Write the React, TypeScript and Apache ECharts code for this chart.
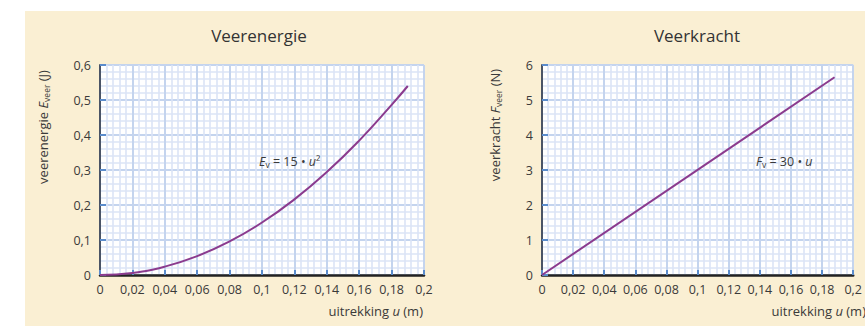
import React, { useEffect, useRef } from "react";
import * as echarts from "echarts";

const energyU = [0, 0.02, 0.04, 0.06, 0.08, 0.1, 0.12, 0.14, 0.16, 0.18, 0.19];
const energyE = [0, 0.006, 0.024, 0.054, 0.096, 0.15, 0.216, 0.294, 0.384, 0.486, 0.54];
const forceU = [0, 0.188];
const forceF = [0, 5.65];

const titles = ["Veerenergie", "Veerkracht"];

const FONT = "'Open Sans', 'Noto Sans', sans-serif";
const TXT = "#3a3a3a";
const PURPLE = "#8b3b8e";

const fmt = (v: number) => String(Number(v.toFixed(3))).replace(".", ",");

function xAxisFor(idx: number) {
  return {
    type: "value",
    gridIndex: idx,
    min: 0,
    max: 0.2,
    interval: 0.02,
    axisLine: { show: true, onZero: false, lineStyle: { color: "#222", width: 2.5 } },
    axisTick: { show: true, inside: true, length: 5, lineStyle: { color: "#5b8ccc", width: 2 } },
    axisLabel: { formatter: fmt, color: TXT, fontSize: 12.5, fontFamily: FONT, margin: 8 },
    splitLine: { show: true, lineStyle: { color: "#c4d4ee", width: 2 } },
    minorTick: { show: false, splitNumber: 5 },
    minorSplitLine: { show: true, lineStyle: { color: "#dbe4f6", width: 1.6 } },
  };
}

function yAxisFor(idx: number, max: number, interval: number) {
  return {
    type: "value",
    gridIndex: idx,
    min: 0,
    max,
    interval,
    axisLine: { show: true, onZero: false, lineStyle: { color: "#4a5466", width: 2 } },
    axisTick: { show: true, inside: true, length: 6, lineStyle: { color: "#5b8ccc", width: 2 } },
    axisLabel: { formatter: fmt, color: TXT, fontSize: 12.5, fontFamily: FONT, margin: 9 },
    splitLine: { show: true, lineStyle: { color: "#c4d4ee", width: 2 } },
    minorTick: { show: false, splitNumber: 5 },
    minorSplitLine: { show: true, lineStyle: { color: "#dbe4f6", width: 1.6 } },
  };
}

const richBase = {
  a: { fontSize: 13, fontFamily: FONT, fill: TXT },
  i: { fontSize: 13, fontFamily: FONT, fontStyle: "italic", fill: TXT },
  s: { fontSize: 8.5, fontFamily: FONT, fill: TXT, verticalAlign: "bottom", padding: [6, 0, 0, 0] },
};

const richEq = {
  a: { fontSize: 12.5, fontFamily: FONT, fill: TXT },
  i: { fontSize: 12.5, fontFamily: FONT, fontStyle: "italic", fill: TXT },
  s: { fontSize: 8.5, fontFamily: FONT, fill: TXT, verticalAlign: "bottom", padding: [6, 0, 0, 0] },
};

export default function App() {
  const ref = useRef<HTMLDivElement>(null);
  useEffect(() => {
    if (!ref.current) return;
    const chart = echarts.init(ref.current, null, { renderer: "svg" });
    chart.setOption({
      animation: false,
      backgroundColor: "#ffffff",
      grid: [
        { left: 100, top: 65, width: 324, height: 210, show: true, backgroundColor: "#ffffff", borderWidth: 0 },
        { left: 542, top: 65, width: 324, height: 210, show: true, backgroundColor: "#ffffff", borderWidth: 0 },
      ],
      xAxis: [xAxisFor(0), xAxisFor(1)],
      yAxis: [yAxisFor(0, 0.6, 0.1), yAxisFor(1, 6, 1)],
      series: [
        {
          type: "line",
          xAxisIndex: 0,
          yAxisIndex: 0,
          data: energyU.map((u, i) => [u, energyE[i]]),
          smooth: true,
          showSymbol: false,
          lineStyle: { color: PURPLE, width: 2 },
          z: 5,
        },
        {
          type: "line",
          xAxisIndex: 1,
          yAxisIndex: 1,
          data: forceU.map((u, i) => [u, forceF[i]]),
          showSymbol: false,
          lineStyle: { color: PURPLE, width: 2 },
          z: 5,
        },
      ],
      graphic: [
        {
          type: "rect",
          z: -10,
          silent: true,
          shape: { x: 25, y: 11, width: 840, height: 315 },
          style: { fill: "#faefd3" },
        },
        {
          type: "text",
          x: 259,
          y: 35,
          style: { text: titles[0], font: `17px ${FONT}`, fill: "#333", textAlign: "center", textVerticalAlign: "middle" },
        },
        {
          type: "text",
          x: 697,
          y: 35,
          style: { text: titles[1], font: `17px ${FONT}`, fill: "#333", textAlign: "center", textVerticalAlign: "middle" },
        },
        {
          type: "text",
          x: 43,
          y: 127,
          rotation: Math.PI / 2,
          style: {
            text: "{a|veerenergie }{i|E}{s|veer}{a| (J)}",
            rich: richBase,
            textAlign: "center",
            textVerticalAlign: "middle",
          },
        },
        {
          type: "text",
          x: 495,
          y: 125,
          rotation: Math.PI / 2,
          style: {
            text: "{a|veerkracht }{i|F}{s|veer}{a| (N)}",
            rich: richBase,
            textAlign: "center",
            textVerticalAlign: "middle",
          },
        },
        {
          type: "text",
          x: 423,
          y: 311,
          style: {
            text: "{a|uitrekking }{i|u}{a| (m)}",
            rich: richBase,
            textAlign: "right",
            textVerticalAlign: "middle",
          },
        },
        {
          type: "text",
          x: 866,
          y: 311,
          style: {
            text: "{a|uitrekking }{i|u}{a| (m)}",
            rich: richBase,
            textAlign: "right",
            textVerticalAlign: "middle",
          },
        },
        {
          type: "text",
          x: 259,
          y: 161,
          z: 10,
          style: {
            text: "{i|E}{s|v}{a| = 15 • }{i|u}{a|²}",
            rich: richEq,
            textAlign: "left",
            textVerticalAlign: "middle",
          },
        },
        {
          type: "text",
          x: 756,
          y: 161,
          z: 10,
          style: {
            text: "{i|F}{s|v}{a| = 30 • }{i|u}",
            rich: richEq,
            textAlign: "left",
            textVerticalAlign: "middle",
          },
        },
      ],
    });
    return () => chart.dispose();
  }, []);
  return (
    <div
      ref={ref}
      style={{ position: "fixed", left: 0, top: 0, width: 865, height: 326 }}
    />
  );
}
